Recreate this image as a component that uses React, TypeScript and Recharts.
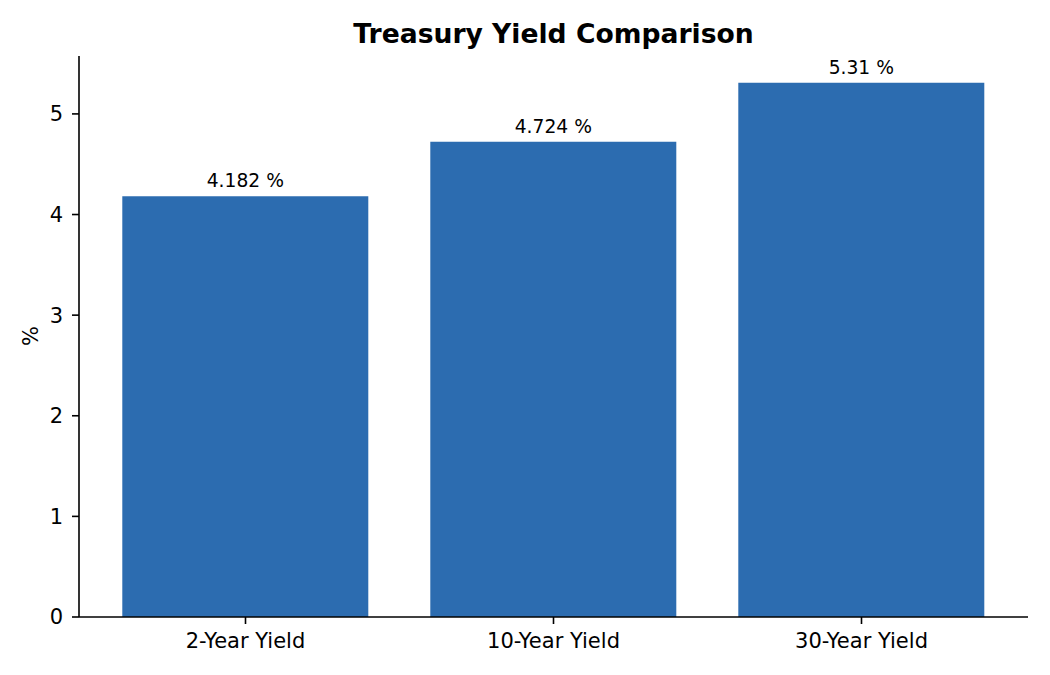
import React from 'react';
import { BarChart, Bar, XAxis, YAxis, LabelList } from 'recharts';

const categories = ['2-Year Yield', '10-Year Yield', '30-Year Yield'];
const yields = [4.182, 4.724, 5.31];
const yTicks = [0, 1, 2, 3, 4, 5];
const yMax = 5.5755;

const data = categories.map((c, i) => ({ category: c, value: yields[i] }));

const FONT = '"DejaVu Sans", sans-serif';

const YLabel = () => (
  <text
    x={31}
    y={336}
    transform="rotate(-90 31 336)"
    textAnchor="middle"
    dominantBaseline="central"
    fontFamily={FONT}
    fontSize={21}
    fill="#000"
  >
    %
  </text>
);

export default function App() {
  return (
    <div style={{ position: 'absolute', left: 0, top: 0, width: 1050, height: 675, background: '#fff' }}>
      <div
        style={{
          position: 'absolute',
          left: 0,
          width: 1107,
          top: 18,
          textAlign: 'center',
          fontFamily: FONT,
          fontWeight: 'bold',
          fontSize: 26.6,
          color: '#000',
          lineHeight: '32px',
        }}
      >
        Treasury Yield Comparison
      </div>
      <BarChart
        width={1050}
        height={675}
        data={data}
        margin={{ top: 56, right: 22, bottom: 0, left: 0 }}
        barCategoryGap="10%"
      >
        <XAxis
          dataKey="category"
          padding={{ left: 12.5, right: 12.5 }}
          height={58}
          tickSize={7}
          tickMargin={9.5}
          axisLine={{ stroke: '#000', strokeWidth: 1.6 }}
          tickLine={{ stroke: '#000', strokeWidth: 1.6 }}
          tick={{ fill: '#000', fontSize: 21, fontFamily: FONT }}
        />
        <YAxis
          width={79}
          domain={[0, yMax]}
          ticks={yTicks}
          allowDataOverflow
          tickSize={7}
          tickMargin={9}
          axisLine={{ stroke: '#000', strokeWidth: 1.6 }}
          tickLine={{ stroke: '#000', strokeWidth: 1.6 }}
          tick={{ fill: '#000', fontSize: 21, fontFamily: FONT }}
          label={<YLabel />}
        />
        <Bar dataKey="value" fill="#2c6cb0" isAnimationActive={false}>
          <LabelList
            dataKey="value"
            position="top"
            offset={9}
            formatter={(v: number) => `${v} %`}
            style={{ fill: '#000', fontSize: 18.7, fontFamily: FONT }}
          />
        </Bar>
      </BarChart>
    </div>
  );
}
